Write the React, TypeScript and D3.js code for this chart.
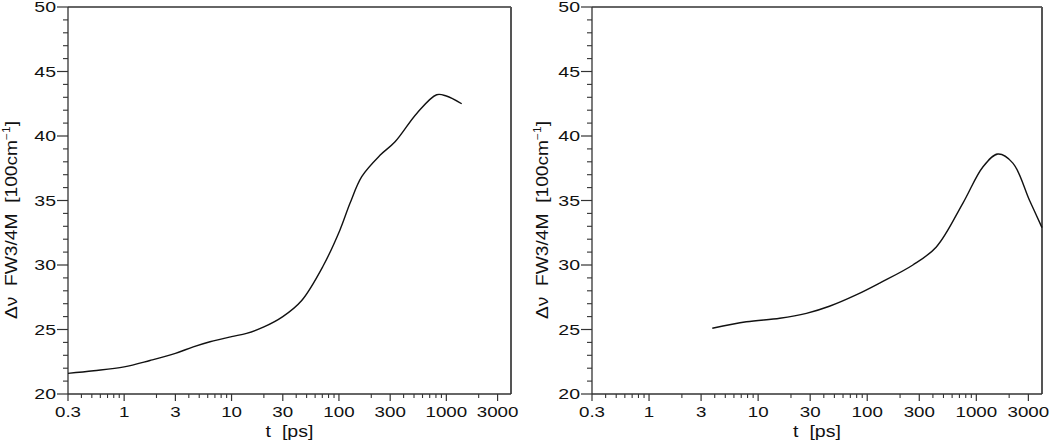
import React from "react";
import * as d3 from "d3";

// left panel
const leftT = [0.3, 0.52, 1, 1.74, 3, 4.4, 6.3, 10, 13.8, 20, 30, 45, 71, 102, 127, 163, 241, 333, 530, 813, 1000, 1390];
const leftV = [21.6, 21.8, 22.1, 22.6, 23.15, 23.65, 24.05, 24.45, 24.7, 25.2, 26.0, 27.25, 29.9, 32.7, 34.8, 36.85, 38.5, 39.55, 41.75, 43.2, 43.1, 42.5];

// right panel
const rightT = [3.8, 7.8, 15.8, 27.7, 45, 80, 130, 262, 430, 754, 1148, 1575, 2163, 3078, 4000];
const rightV = [25.1, 25.6, 25.87, 26.25, 26.8, 27.7, 28.6, 30.0, 31.4, 34.8, 37.6, 38.6, 37.9, 35.0, 32.9];

const xTickLabels = [0.3, 1, 3, 10, 30, 100, 300, 1000, 3000];
const yTickLabels = [20, 25, 30, 35, 40, 45, 50];

const T_DOMAIN: [number, number] = [0.3, 4000];
const Y_DOMAIN: [number, number] = [20, 50];

const W = 1050;
const H = 442;
const TOP = 7;
const BOTTOM = 394;
const FONT = "'Liberation Sans', Arial, sans-serif";

// minor ticks at 2..9 x decade, skipping the labelled ones
const minorX: number[] = [];
[0.1, 1, 10, 100, 1000].forEach((d) => {
  for (let k = 2; k <= 9; k++) {
    const v = +(k * d).toPrecision(3);
    if (v > T_DOMAIN[0] && v < T_DOMAIN[1] && !xTickLabels.includes(v)) minorX.push(v);
  }
});
const minorY = d3.range(21, 50).filter((v) => v % 5 !== 0);

const Panel = ({ left, right, t, v, titleX }: any) => {
  const x = d3.scaleLog().domain(T_DOMAIN).range([left, right]);
  const y = d3.scaleLinear().domain(Y_DOMAIN).range([BOTTOM, TOP]);
  const line = d3
    .line<number>()
    .x((d, i) => x(t[i]))
    .y((d) => y(d))
    .curve(d3.curveCatmullRom.alpha(0.5));
  const axisCol = "#333";
  const cx = (left + right) / 2;
  const cy = 220;

  return (
    <g>
      {/* frame */}
      <line x1={left} x2={right} y1={TOP} y2={TOP} stroke={axisCol} strokeWidth={1.3} />
      <line x1={right} x2={right} y1={TOP} y2={BOTTOM} stroke="#555" strokeWidth={2} />
      <line x1={left} x2={left} y1={TOP} y2={BOTTOM} stroke={axisCol} strokeWidth={1.3} />
      <line x1={left} x2={right} y1={BOTTOM} y2={BOTTOM} stroke={axisCol} strokeWidth={1.3} />

      {/* y ticks */}
      {minorY.map((d) => (
        <line key={"my" + d} x1={left - 5} x2={left} y1={y(d)} y2={y(d)} stroke={axisCol} strokeWidth={1.1} />
      ))}
      {yTickLabels.map((d) => (
        <g key={"y" + d}>
          <line x1={left - 11} x2={left} y1={y(d)} y2={y(d)} stroke={axisCol} strokeWidth={1.2} />
          <text
            transform={`translate(${left - 12},${y(d) + 5.3}) scale(1.3,1)`}
            textAnchor="end"
            fontSize={15}
            fontFamily={FONT}
            fill="#111"
          >
            {d}
          </text>
        </g>
      ))}

      {/* x ticks */}
      {minorX.map((d) => (
        <line key={"mx" + d} x1={x(d)} x2={x(d)} y1={BOTTOM} y2={BOTTOM + 4} stroke={axisCol} strokeWidth={1.1} />
      ))}
      {xTickLabels.map((d) => (
        <g key={"x" + d}>
          <line x1={x(d)} x2={x(d)} y1={BOTTOM} y2={BOTTOM + 7} stroke={axisCol} strokeWidth={1.2} />
          <text
            transform={`translate(${x(d)},${BOTTOM + 23}) scale(1.25,1)`}
            textAnchor="middle"
            fontSize={15}
            fontFamily={FONT}
            fill="#111"
          >
            {d}
          </text>
        </g>
      ))}

      {/* titles */}
      <text
        transform={`translate(${cx},${BOTTOM + 43}) scale(1.15,1)`}
        textAnchor="middle"
        fontSize={17}
        fontFamily={FONT}
        fill="#111"
        style={{ whiteSpace: "pre" }}
      >
        {"t  [ps]"}
      </text>
      <text
        transform={`translate(${titleX},${cy}) rotate(-90) scale(1.2,1)`}
        textAnchor="middle"
        fontSize={16}
        fontFamily={FONT}
        fill="#111"
        style={{ whiteSpace: "pre" }}
      >
        {"Δν  FW3/4M  [100cm"}
        <tspan fontSize={10} dy={-7}>
          −1
        </tspan>
        <tspan dy={7}>]</tspan>
      </text>

      <path d={line(v) || ""} fill="none" stroke="#111" strokeWidth={1.4} />
    </g>
  );
};

export default function App() {
  return (
    <svg
      width={W}
      height={H}
      style={{ position: "absolute", left: 0, top: 0, background: "#fff" }}
    >
      <rect width={W} height={H} fill="#fff" />
      <Panel left={68} right={511} t={leftT} v={leftV} titleX={17} />
      <Panel left={592} right={1042} t={rightT} v={rightV} titleX={548} />
    </svg>
  );
}
